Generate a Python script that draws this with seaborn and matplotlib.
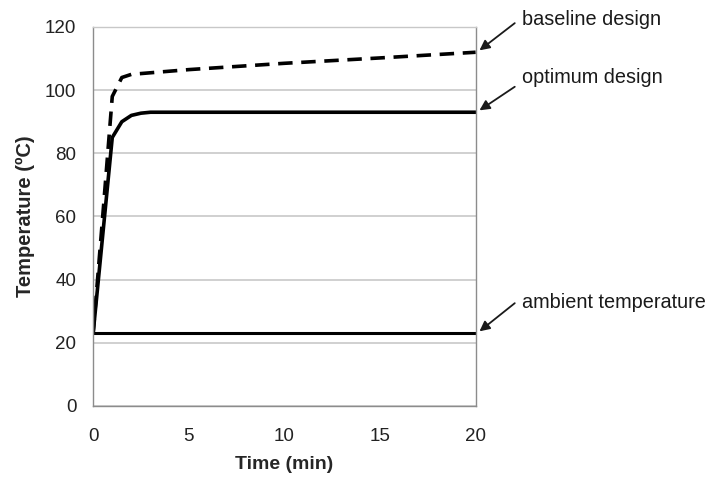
import matplotlib
matplotlib.use("Agg")
import matplotlib.pyplot as plt
import seaborn as sns
import pandas as pd

time_baseline = [0, 0.5, 1.0, 1.5, 2.0, 5, 10, 15, 20]
temp_baseline = [23, 60, 98, 104, 105, 106.5, 108.5, 110.2, 112]
time_optimum = [0, 1.0, 1.5, 2.0, 2.5, 3.0, 5, 10, 15, 20]
temp_optimum = [23, 85, 90, 92, 92.7, 93, 93, 93, 93, 93]
time_ambient = [0, 20]
temp_ambient = [23, 23]
labels = ["baseline design", "optimum design", "ambient temperature"]
label_values = [112, 93, 23]

sns.set_style("white")
plt.rcParams["font.family"] = ["Liberation Sans", "DejaVu Sans"]

fig = plt.figure(figsize=(7.11, 4.82), dpi=100)
ax = fig.add_axes([0.131, 0.158, 0.538, 0.786])

df_b = pd.DataFrame({"t": time_baseline, "T": temp_baseline})
df_o = pd.DataFrame({"t": time_optimum, "T": temp_optimum})
df_a = pd.DataFrame({"t": time_ambient, "T": temp_ambient})

sns.lineplot(data=df_b, x="t", y="T", ax=ax, color="black", lw=2.6,
             linestyle=(0, (4.0, 2.4)))
sns.lineplot(data=df_o, x="t", y="T", ax=ax, color="black", lw=2.6)
sns.lineplot(data=df_a, x="t", y="T", ax=ax, color="black", lw=2.2)

ax.set_xlim(0, 20)
ax.set_ylim(0, 120)
ax.set_xticks([0, 5, 10, 15, 20])
ax.set_yticks(range(0, 121, 20))
ax.yaxis.grid(True, color="#c8c8c8", lw=1.2)
ax.set_axisbelow(True)
for s in ax.spines.values():
    s.set_color("#8c8c8c")
    s.set_linewidth(1.0)
ax.spines["top"].set_color("#c8c8c8")
ax.tick_params(axis="both", labelsize=13.5, colors="#222222", length=5,
               width=1, direction="out", color="#8c8c8c")
ax.tick_params(axis="y", pad=7)
ax.tick_params(axis="x", pad=11)
ax.set_xlabel("Time (min)", fontsize=14, fontweight="bold", labelpad=8)
ax.set_ylabel("Temperature (ºC)", fontsize=14.5, fontweight="bold", labelpad=7)

text_y = [0.959, 0.840, 0.373]
tail_y = [0.952, 0.820, 0.371]
for lab, yv, ty, ay in zip(labels, label_values, text_y, tail_y):
    fig.text(0.734, ty, lab, fontsize=14.3, color="#1a1a1a",
             ha="left", va="center")
    ax.annotate("", xy=(20.2, yv + 0.6), xycoords="data",
                xytext=(0.724, ay), textcoords="figure fraction",
                arrowprops=dict(arrowstyle="-|>", color="#1a1a1a", lw=1.3,
                                shrinkA=0, shrinkB=0, mutation_scale=15),
                annotation_clip=False)

fig.savefig("out.png", dpi=100)
